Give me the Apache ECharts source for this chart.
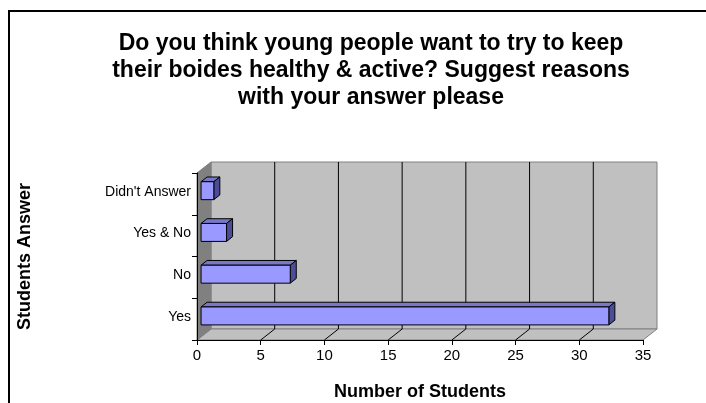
<!DOCTYPE html>
<html>
<head>
<meta charset="utf-8">
<script src="https://cdn.jsdelivr.net/npm/echarts@6/dist/echarts.min.js"></script>
<style>html,body{margin:0;padding:0;background:#fff;}#c{width:706px;height:403px;}</style>
</head>
<body>
<div id="c"></div>
<script>
const categories = ['Yes', 'No', 'Yes & No', "Didn't Answer"];
const studentCounts = [32, 7, 2, 1];
const xTicks = [0, 5, 10, 15, 20, 25, 30, 35];
const titleLines = ['Do you think young people want to try to keep', 'their boides healthy & active? Suggest reasons', 'with your answer please'];

const FONT = "'Liberation Sans', Arial, sans-serif";
const DX = 14, DY = -11;      // 3D depth offset of the box
const D1 = 0.29, D2 = 0.72;   // bar depth placement (fractions)

const chart = echarts.init(document.getElementById('c'), null, {renderer: 'canvas'});

function wallsRender(params, api) {
  const cs = params.coordSys;
  const x0 = cs.x, x1 = cs.x + cs.width, yt = cs.y, yb = cs.y + cs.height;
  const children = [];
  children.push({type: 'polygon', shape: {points: [[x0 + DX, yt + DY], [x1 + DX, yt + DY], [x1 + DX, yb + DY], [x0 + DX, yb + DY]]},
    style: {fill: '#c0c0c0', stroke: '#808080', lineWidth: 1}});
  children.push({type: 'polygon', shape: {points: [[x0, yb], [x1, yb], [x1 + DX, yb + DY], [x0 + DX, yb + DY]]},
    style: {fill: '#c0c0c0', stroke: '#808080', lineWidth: 1}});
  children.push({type: 'polygon', shape: {points: [[x0, yt], [x0 + DX, yt + DY], [x0 + DX, yb + DY], [x0, yb]]},
    style: {fill: '#808080', stroke: '#808080', lineWidth: 1}});
  xTicks.forEach(function (v) {
    if (v === xTicks[0] || v === xTicks[xTicks.length - 1]) return;
    const xv = api.coord([v, 0])[0];
    children.push({type: 'line', shape: {x1: xv + DX, y1: yt + DY, x2: xv + DX, y2: yb + DY}, style: {stroke: '#000', lineWidth: 1}});
    children.push({type: 'line', shape: {x1: xv, y1: yb, x2: xv + DX, y2: yb + DY}, style: {stroke: '#000', lineWidth: 1}});
  });
  return {type: 'group', children: children};
}

function barRender(params, api) {
  const idx = api.value(1);
  const e = api.coord([api.value(0), idx]);
  const s = api.coord([0, idx]);
  const band = api.size([0, 1])[1];
  const h = band * 0.43;
  const ox = DX * D1, oy = DY * D1;
  const bx = DX * (D2 - D1), by = DY * (D2 - D1);
  const xl = s[0] + ox, xr = e[0] + ox;
  const yt = e[1] + oy - h / 2, ybt = yt + h;
  const st = {stroke: '#000', lineWidth: 1};
  return {type: 'group', children: [
    {type: 'polygon', shape: {points: [[xl, yt], [xr, yt], [xr + bx, yt + by], [xl + bx, yt + by]]}, style: Object.assign({fill: '#7878c8'}, st)},
    {type: 'polygon', shape: {points: [[xr, yt], [xr + bx, yt + by], [xr + bx, ybt + by], [xr, ybt]]}, style: Object.assign({fill: '#4c4c99'}, st)},
    {type: 'rect', shape: {x: xl, y: yt, width: xr - xl, height: h}, style: Object.assign({fill: '#9999ff'}, st)}
  ]};
}

chart.setOption({
  animation: false,
  backgroundColor: '#fff',
  grid: {left: 197, top: 173, width: 446, height: 167, containLabel: false},
  xAxis: {
    type: 'value', min: xTicks[0], max: xTicks[xTicks.length - 1], interval: 5, z: 10,
    axisLine: {show: true, lineStyle: {color: '#000', width: 1}},
    axisTick: {show: true, length: 5, lineStyle: {color: '#000'}},
    axisLabel: {color: '#000', fontSize: 15, fontFamily: FONT, margin: 8},
    splitLine: {show: false},
    name: 'Number of Students', nameLocation: 'middle', nameGap: 43,
    nameTextStyle: {color: '#000', fontSize: 18, fontWeight: 'bold', fontFamily: FONT}
  },
  yAxis: {
    type: 'category', data: categories, z: 10,
    axisLine: {show: true, lineStyle: {color: '#000', width: 1}},
    axisTick: {show: true, length: 5, lineStyle: {color: '#000'}},
    axisLabel: {color: '#000', fontSize: 14, fontFamily: FONT, margin: 6, verticalAlign: 'bottom', lineHeight: 4},
    splitLine: {show: false},
    name: 'Students Answer', nameLocation: 'middle', nameGap: 163, nameRotate: 90,
    nameTextStyle: {color: '#000', fontSize: 18, fontWeight: 'bold', fontFamily: FONT}
  },
  graphic: [
    {type: 'rect', shape: {x: 9, y: 11, width: 800, height: 500}, style: {fill: 'none', stroke: '#000', lineWidth: 2}, z: 100},
    {type: 'text', x: 371, y: 30, style: {text: titleLines.join('\n'), font: 'bold 23px ' + FONT, lineHeight: 27, fill: '#000', textAlign: 'center', textVerticalAlign: 'top'}}
  ],
  series: [
    {type: 'custom', renderItem: wallsRender, data: [[0, 0]], z: 1, silent: true},
    {type: 'custom', renderItem: barRender, data: studentCounts.map(function (v, i) { return [v, i]; }), z: 5, silent: true}
  ]
});
</script>
</body>
</html>
